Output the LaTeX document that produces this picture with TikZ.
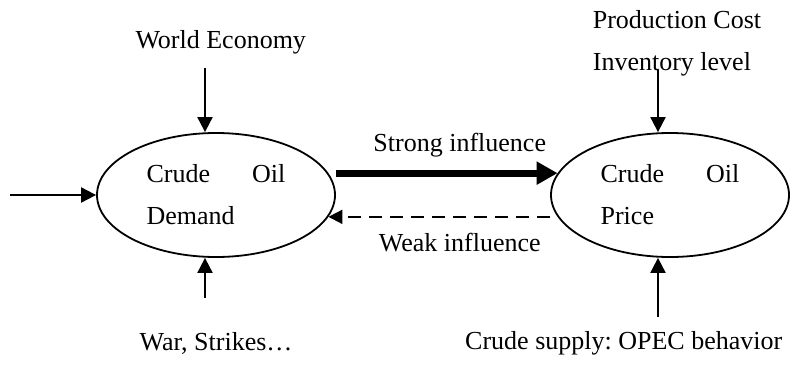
\documentclass[tikz,border=0pt]{standalone}
\usepackage{fontspec}
\setmainfont{Liberation Serif}
\usetikzlibrary{shapes.geometric,arrows.meta}

\tikzset{
    factor/.style={ellipse, draw, line width=0.9pt, minimum width=119pt, minimum height=62pt, inner sep=0pt, align=left},
    txt/.style={inner sep=0pt, align=left},
    feed/.style={-{Triangle[length=7.5pt,width=7.5pt]}, line width=1pt},
    strong/.style={-{Triangle[length=10.5pt,width=11pt]}, line width=3.5pt},
    weak/.style={-{Triangle[length=7pt,width=7pt]}, line width=1pt, dash pattern=on 6.5pt off 4pt}
}

\begin{document}
\begin{tikzpicture}[x=0.5pt, y=0.5pt, font=\fontsize{13}{21}\selectfont]
            \useasboundingbox (0, 0) rectangle (790, 365);

            % the two ellipses
            \node[factor] (dem) at (216, 170) {Crude\hspace{21pt}Oil\\Demand};
            \node[factor] (pri) at (670, 170) {Crude\hspace{21pt}Oil\\Price};

            % factors around them
            \node[txt] (world) at (224, 323) { World Economy };
            \node[txt] (war) at (216, 22) { War, Strikes\ldots };
            \node[txt] (prod) at (677, 322) {Production Cost\\Inventory level};
            \node[txt] (supply) at (627, 22) { Crude supply:\ OPEC behavior };

            \coordinate (W) at (205, 297);
            \coordinate (S) at (205, 67);
            \coordinate (L) at (10, 170);
            \coordinate (P) at (658, 295);
            \coordinate (C) at (658, 48);

            \draw[feed] (W) -- (W |- dem.north);
            \draw[feed] (S) -- (S |- dem.south);
            \draw[feed] (L) -- (dem.west);
            \draw[feed] (P) -- (P |- pri.north);
            \draw[feed] (C) -- (C |- pri.south);

            % influences
            \draw[strong] (dem.east |- pri.169) -- (pri.169);
            \draw[weak] (pri.west |- dem.349) -- (dem.349);
            \node[txt] (sinf) at (463, 220) { Strong influence };
            \node[txt] (winf) at (463, 122) { Weak influence };
\end{tikzpicture}
\end{document}
